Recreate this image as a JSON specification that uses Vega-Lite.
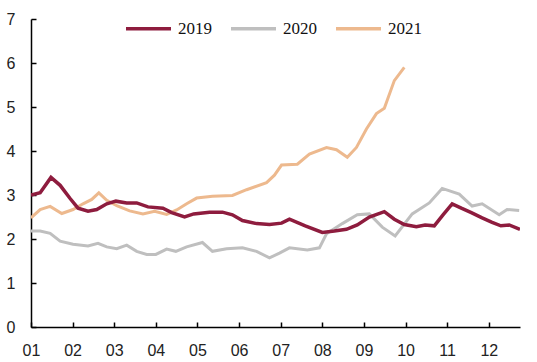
{
  "$schema": "https://vega.github.io/schema/vega-lite/v6.json",
  "autosize": "none",
  "padding": {"left": 31, "top": 19, "right": 17, "bottom": 35},
  "width": 489,
  "height": 308,
  "background": "white",
  "config": {"view": {"stroke": null}},
  "datasets": {
    "d2020": [
      {"m": 1.0, "v": 2.18}, {"m": 1.22, "v": 2.18}, {"m": 1.46, "v": 2.13}, {"m": 1.70, "v": 1.95},
      {"m": 2.01, "v": 1.88}, {"m": 2.37, "v": 1.84}, {"m": 2.61, "v": 1.9}, {"m": 2.82, "v": 1.82},
      {"m": 3.06, "v": 1.78}, {"m": 3.30, "v": 1.86}, {"m": 3.54, "v": 1.72}, {"m": 3.78, "v": 1.65},
      {"m": 4.00, "v": 1.65}, {"m": 4.26, "v": 1.77}, {"m": 4.48, "v": 1.72}, {"m": 4.74, "v": 1.82},
      {"m": 5.12, "v": 1.92}, {"m": 5.36, "v": 1.72}, {"m": 5.70, "v": 1.78}, {"m": 6.08, "v": 1.8},
      {"m": 6.42, "v": 1.72}, {"m": 6.73, "v": 1.57}, {"m": 6.97, "v": 1.68}, {"m": 7.21, "v": 1.8},
      {"m": 7.64, "v": 1.75}, {"m": 7.93, "v": 1.8}, {"m": 8.10, "v": 2.12}, {"m": 8.48, "v": 2.35},
      {"m": 8.84, "v": 2.55}, {"m": 9.13, "v": 2.57}, {"m": 9.44, "v": 2.27}, {"m": 9.75, "v": 2.07},
      {"m": 10.16, "v": 2.57}, {"m": 10.57, "v": 2.82}, {"m": 10.88, "v": 3.15}, {"m": 11.29, "v": 3.02},
      {"m": 11.60, "v": 2.75}, {"m": 11.84, "v": 2.8}, {"m": 12.25, "v": 2.55}, {"m": 12.44, "v": 2.67},
      {"m": 12.73, "v": 2.65}
    ],
    "d2021": [
      {"m": 1.0, "v": 2.48}, {"m": 1.22, "v": 2.67}, {"m": 1.46, "v": 2.74}, {"m": 1.74, "v": 2.58},
      {"m": 2.01, "v": 2.67}, {"m": 2.25, "v": 2.8}, {"m": 2.46, "v": 2.9}, {"m": 2.63, "v": 3.05},
      {"m": 2.82, "v": 2.88}, {"m": 3.06, "v": 2.76}, {"m": 3.37, "v": 2.64}, {"m": 3.69, "v": 2.57},
      {"m": 3.97, "v": 2.63}, {"m": 4.26, "v": 2.56}, {"m": 4.50, "v": 2.66}, {"m": 4.74, "v": 2.8},
      {"m": 4.98, "v": 2.93}, {"m": 5.36, "v": 2.97}, {"m": 5.84, "v": 2.99}, {"m": 6.18, "v": 3.12},
      {"m": 6.66, "v": 3.28}, {"m": 6.85, "v": 3.45}, {"m": 7.02, "v": 3.68}, {"m": 7.40, "v": 3.7},
      {"m": 7.69, "v": 3.93}, {"m": 8.10, "v": 4.08}, {"m": 8.34, "v": 4.03}, {"m": 8.60, "v": 3.86},
      {"m": 8.82, "v": 4.08}, {"m": 9.06, "v": 4.5}, {"m": 9.30, "v": 4.85}, {"m": 9.49, "v": 4.97},
      {"m": 9.73, "v": 5.6}, {"m": 9.97, "v": 5.9}
    ],
    "d2019": [
      {"m": 1.0, "v": 3.0}, {"m": 1.22, "v": 3.05}, {"m": 1.48, "v": 3.4}, {"m": 1.70, "v": 3.22},
      {"m": 1.94, "v": 2.92}, {"m": 2.13, "v": 2.7}, {"m": 2.37, "v": 2.63}, {"m": 2.58, "v": 2.67},
      {"m": 2.82, "v": 2.8}, {"m": 3.04, "v": 2.86}, {"m": 3.30, "v": 2.82}, {"m": 3.54, "v": 2.82},
      {"m": 3.81, "v": 2.73}, {"m": 4.17, "v": 2.7}, {"m": 4.38, "v": 2.6}, {"m": 4.69, "v": 2.5},
      {"m": 4.91, "v": 2.57}, {"m": 5.29, "v": 2.61}, {"m": 5.60, "v": 2.61}, {"m": 5.84, "v": 2.55},
      {"m": 6.08, "v": 2.42}, {"m": 6.42, "v": 2.35}, {"m": 6.73, "v": 2.33}, {"m": 7.02, "v": 2.36},
      {"m": 7.21, "v": 2.45}, {"m": 7.59, "v": 2.3}, {"m": 8.00, "v": 2.15}, {"m": 8.29, "v": 2.18},
      {"m": 8.58, "v": 2.22}, {"m": 8.84, "v": 2.32}, {"m": 9.13, "v": 2.5}, {"m": 9.49, "v": 2.62},
      {"m": 9.73, "v": 2.45}, {"m": 9.97, "v": 2.33}, {"m": 10.26, "v": 2.28}, {"m": 10.47, "v": 2.32},
      {"m": 10.69, "v": 2.3}, {"m": 10.90, "v": 2.55}, {"m": 11.12, "v": 2.8}, {"m": 11.34, "v": 2.7},
      {"m": 11.58, "v": 2.6}, {"m": 11.84, "v": 2.48}, {"m": 12.08, "v": 2.38}, {"m": 12.29, "v": 2.3},
      {"m": 12.49, "v": 2.32}, {"m": 12.75, "v": 2.22}
    ]
  },
  "layer": [
    {
      "data": {"name": "d2020"},
      "transform": [{"calculate": "'2020'", "as": "s"}],
      "mark": {"type": "line", "strokeWidth": 3, "clip": true},
      "encoding": {
        "x": {"field": "m", "type": "quantitative",
          "scale": {"domain": [1, 12.75], "nice": false, "zero": false},
          "axis": {"title": null, "values": [1,2,3,4,5,6,7,8,9,10,11,12],
            "labelExpr": "datum.value < 10 ? '0' + datum.value : '' + datum.value",
            "grid": false, "domainColor": "#000000", "domainWidth": 1.5, "tickColor": "#000000",
            "tickSize": -5, "tickWidth": 1.5, "labelPadding": 20, "labelFont": "Liberation Sans",
            "labelFontSize": 16, "labelColor": "#222222", "labelFlush": false}},
        "y": {"field": "v", "type": "quantitative",
          "scale": {"domain": [0, 7], "nice": false},
          "axis": {"title": null, "values": [0,1,2,3,4,5,6,7], "grid": false,
            "domainColor": "#000000", "domainWidth": 1.5, "tickColor": "#000000",
            "tickSize": -5, "tickWidth": 1.5, "labelPadding": 21, "labelFont": "Liberation Sans",
            "labelFontSize": 16, "labelColor": "#222222"}},
        "color": {"field": "s", "type": "nominal",
          "scale": {"domain": ["2019", "2020", "2021"], "range": ["#8E1C3E", "#BFBFBF", "#EDB98E"]},
          "legend": {"title": null, "orient": "none", "direction": "horizontal",
            "legendX": 93, "legendY": -15, "symbolType": "stroke", "symbolSize": 2025,
            "symbolStrokeWidth": 3.5, "labelFont": "Liberation Serif", "labelFontSize": 17,
            "labelColor": "#111111", "columnPadding": 12, "labelOffset": 5}}
      }
    },
    {
      "data": {"name": "d2021"},
      "transform": [{"calculate": "'2021'", "as": "s"}],
      "mark": {"type": "line", "strokeWidth": 3, "clip": true},
      "encoding": {
        "x": {"field": "m", "type": "quantitative"},
        "y": {"field": "v", "type": "quantitative"},
        "color": {"field": "s", "type": "nominal"}
      }
    },
    {
      "data": {"name": "d2019"},
      "transform": [{"calculate": "'2019'", "as": "s"}],
      "mark": {"type": "line", "strokeWidth": 3.5, "clip": true},
      "encoding": {
        "x": {"field": "m", "type": "quantitative"},
        "y": {"field": "v", "type": "quantitative"},
        "color": {"field": "s", "type": "nominal"}
      }
    }
  ]
}
